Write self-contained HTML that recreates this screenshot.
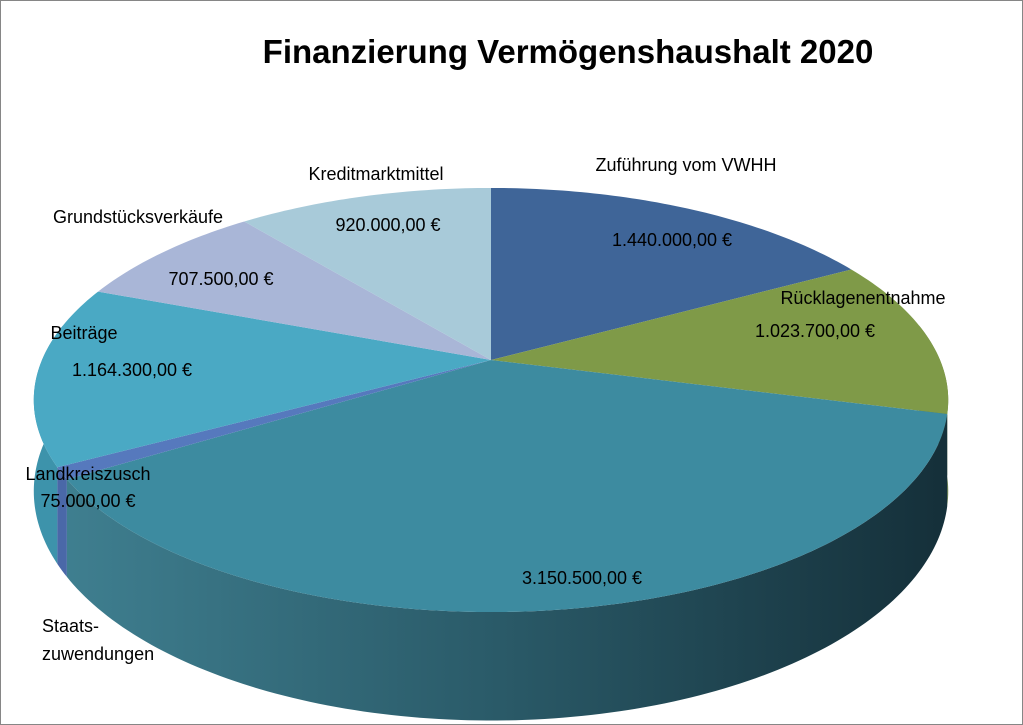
<!DOCTYPE html>
<html><head><meta charset="utf-8"><style>
html,body{margin:0;padding:0;background:#fff}
svg{display:block}
text{font-family:"Liberation Sans",Calibri,sans-serif}
</style></head><body>
<svg id="chart" width="1023" height="725" viewBox="0 0 1023 725">
<defs>
<linearGradient id="gStaats" gradientUnits="userSpaceOnUse" x1="60" y1="0" x2="940" y2="0">
<stop offset="0" stop-color="#3f7f90"/><stop offset="0.5" stop-color="#2a5a68"/><stop offset="1" stop-color="#15303a"/>
</linearGradient>
</defs>
<rect x="0.5" y="0.5" width="1022" height="724" fill="#fff" stroke="#868686"/>
<text x="568" y="63" font-size="33" font-weight="bold" text-anchor="middle" fill="#000">Finanzierung Vermögenshaushalt 2020</text>
<g id="sides"></g>
<g id="tops"></g>
<g id="labels"></g>
</svg>
<script>
const categories = ["Zuführung vom VWHH","Rücklagenentnahme","Staats-zuwendungen","Landkreiszusch","Beiträge","Grundstücksverkäufe","Kreditmarktmittel"];
const values = [1440000,1023700,3150500,75000,1164300,707500,920000];
const valueLabels = ["1.440.000,00 €","1.023.700,00 €","3.150.500,00 €","75.000,00 €","1.164.300,00 €","707.500,00 €","920.000,00 €"];
const topColors = ["#3f6598","#7f9a48","#3d8ba0","#5679bd","#4aa9c4","#a9b6d7","#a8cad9"];
const sideColors = ["#2e4c74","#60783a","url(#gStaats)","#4a68a8","#3d93ab","#8a97b8","#8aaab8"];
const cx=491, cy=360, B=449, A=204.5, k=-0.1887, D=88;
const NS="http://www.w3.org/2000/svg";
function pt(deg, dz){const t=deg*Math.PI/180;const u=Math.sin(t),v=-Math.cos(t);const d=1+k*v;return [cx+B*u/d, cy+A*v/d + (dz?D/d:0)];}
const total=values.reduce((a,b)=>a+b,0);
let acc=0; const slices=[];
values.forEach((v,i)=>{const a0=acc/total*360;acc+=v;slices.push([a0,acc/total*360]);});
const sides=document.getElementById('sides'), tops=document.getElementById('tops'), labels=document.getElementById('labels');
function arc(a0,a1,dz){const p=[];const n=Math.max(2,Math.ceil((a1-a0)));for(let j=0;j<=n;j++)p.push(pt(a0+(a1-a0)*j/n,dz));return p;}
// sides: visible range roughly 80..280
const order=[1,4,3,2];
order.forEach(i=>{
  let a0=Math.max(slices[i][0],80), a1=Math.min(slices[i][1],280);
  if(a1<=a0) return;
  const top=arc(a0,a1,false), bot=arc(a0,a1,true).reverse();
  const p=document.createElementNS(NS,'polygon');
  p.setAttribute('points',top.concat(bot).map(q=>q.join(',')).join(' '));
  p.setAttribute('fill',sideColors[i]);
  
  
  sides.appendChild(p);
});
slices.forEach((s,i)=>{
  const pts=[[cx,cy]].concat(arc(s[0],s[1],false));
  const p=document.createElementNS(NS,'polygon');
  p.setAttribute('points',pts.map(q=>q.join(',')).join(' '));
  p.setAttribute('fill',topColors[i]);
  
  
  tops.appendChild(p);
});
const labelPos=[[686,171,672,246],[863,304,815,337],[null,null,582,584],[88,480,88,507],[84,339,132,376],[138,223,221,285],[376,180,388,231]];
labelPos.forEach((lp,i)=>{
  if(lp[0]!==null){
    const t=document.createElementNS(NS,'text');
    t.setAttribute('x',lp[0]);t.setAttribute('y',lp[1]);t.setAttribute('font-size','18');t.setAttribute('text-anchor','middle');
    t.textContent=categories[i];
    
    
    labels.appendChild(t);
  }
  const v=document.createElementNS(NS,'text');
  v.setAttribute('x',lp[2]);v.setAttribute('y',lp[3]);v.setAttribute('font-size','18');v.setAttribute('text-anchor','middle');
  v.textContent=valueLabels[i];
  
  
  labels.appendChild(v);
});
const s1=document.createElementNS(NS,'text');
s1.setAttribute('x','42');s1.setAttribute('y','632');s1.setAttribute('font-size','18');
s1.textContent='Staats-';


labels.appendChild(s1);
const s2=document.createElementNS(NS,'text');
s2.setAttribute('x','42');s2.setAttribute('y','660');s2.setAttribute('font-size','18');
s2.textContent='zuwendungen';


labels.appendChild(s2);
</script>
</body></html>
